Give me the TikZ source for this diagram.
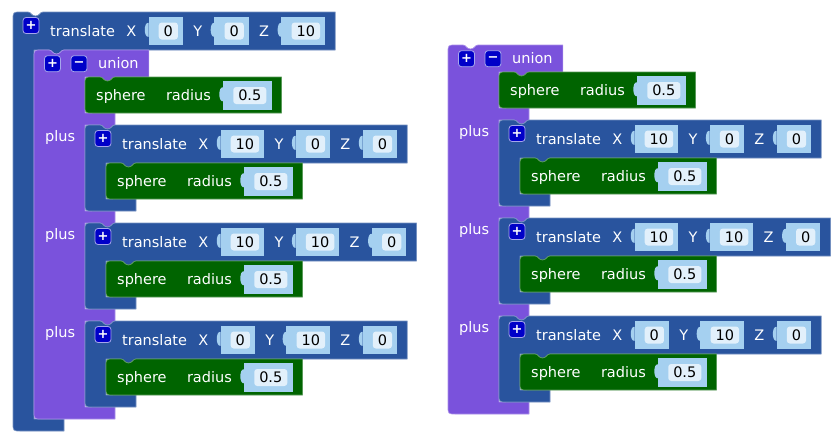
\documentclass[tikz,border=0pt]{standalone}
\usepackage{fontspec}
\setmainfont{DejaVu Sans}
\usetikzlibrary{calc,positioning}
\definecolor{tblue}{RGB}{41,84,158}
\definecolor{upurple}{RGB}{122,82,220}
\definecolor{sgreen}{RGB}{0,100,0}
\definecolor{vblue}{RGB}{165,208,240}
\definecolor{ffield}{RGB}{226,240,251}
\definecolor{bicon}{RGB}{0,0,200}
\pgfdeclarelayer{blocks}
\pgfdeclarelayer{sockets}
\pgfsetlayers{blocks,sockets,main}
\tikzset{
        tblk/.style = {fill=tblue, draw=tblue!65!white, line width=0.7pt, line join=round},
        ublk/.style = {fill=upurple, draw=upurple!65!white, line width=0.7pt, line join=round},
        sblk/.style = {fill=sgreen, draw=sgreen!65!white, line width=0.7pt, line join=round},
        vblk/.style = {fill=vblue},
        lbl/.style = {text=white, inner sep=0pt, text height=12.5pt, text depth=2.5pt},
        fld/.style = {fill=ffield, rounded corners=3pt, text=black,
            inner xsep=5pt, inner ysep=1pt, text height=12.5pt, text depth=2.5pt},
        btn/.style = {fill=bicon, draw=bicon!35!white, line width=0.8pt,
            rounded corners=3pt, minimum size=16pt, inner sep=0pt, text=white,
            font=\bfseries\fontsize{13}{13}\selectfont},
    }
\newcommand{\notchright}{.. controls +(3,0) and +(-4,0) .. ++(7.5,4) .. controls +(4,0) and +(-3,0) .. ++(7.5,-4)}
\newcommand{\tableft}{.. controls +(-3,0) and +(4,0) .. ++(-7.5,4) .. controls +(-4,0) and +(3,0) .. ++(-7.5,-4)}
\newcommand{\valin}[3]{%
    \node[fld, right=22pt of #2] (#1) {#3};
    \begin{pgfonlayer}{sockets}
        \fill[vblk] ($(#1.north west)+(-10,-5.5)$) rectangle ($(#1.south east)+(5,5.5)$);
        \fill[vblk] ($(#1.north west)+(-10,0.5)$) .. controls +(-5,-1) and +(-5,1) .. ++(0,14) -- cycle;
    \end{pgfonlayer}}
\newcommand{\sphereblk}[2]{%
    \begin{scope}[shift={#2}]
        \coordinate (#1O) at (0,0);
        \coordinate (#1B) at (0,36);
        \node[lbl, anchor=base west] (#1s) at (11,23.5) {sphere};
        \node[lbl, right=20pt of #1s] (#1r) {radius};
        \valin{#1f}{#1r}{0.5}
        \coordinate (#1E) at ($(#1f.east)+(15,0)$);
        \begin{pgfonlayer}{blocks}
            \path[sblk] (0,8) .. controls (0,0) .. (8,0) -- (15,0) \notchright -- (#1E |- #1O) -- (#1E |- #1B)
                -- (8,36) .. controls (0,36) .. (0,28) -- cycle;
        \end{pgfonlayer}
    \end{scope}}
\newcommand{\transblk}[6]{%
    \begin{scope}[shift={#2}]
        \coordinate (#1O) at (0,0);
        \coordinate (#1H) at (0,38);
        \node[btn] (#1p) at (18,13.5) {+};
        \node[lbl, anchor=base west] (#1t) at (37,24) {translate};
        \node[lbl, right=11pt of #1t] (#1x) {X};
        \valin{#1xv}{#1x}{#3}
        \node[lbl, right=15pt of #1xv] (#1y) {Y};
        \valin{#1yv}{#1y}{#4}
        \node[lbl, right=15pt of #1yv] (#1z) {Z};
        \valin{#1zv}{#1z}{#5}
        \coordinate (#1E) at ($(#1zv.east)+(15,0)$);
        \begin{pgfonlayer}{blocks}
            \path[tblk] (0,8) .. controls (0,0) .. (8,0) -- (15,0) \notchright -- (#1E |- #1O) -- (#1E |- #1H)
                -- (51,38) \tableft -- (21,38) -- (21,{38+#6}) -- (51,{38+#6}) -- (51,{50+#6})
                -- (8,{50+#6}) .. controls (0,{50+#6}) .. (0,{42+#6}) -- cycle;
        \end{pgfonlayer}
    \end{scope}}
\newcommand{\unionblk}[2]{%
    \begin{scope}[shift={#2}]
        \coordinate (#1O) at (0,0);
        \coordinate (#1H) at (0,27);
        \node[btn] (#1p) at (18.5,13.7) {+};
        \node[btn] (#1m) at (45,13.7) {−};
        \node[lbl, anchor=base west] (#1u) at (64,18.3) {union};
        \foreach \j in {0,1,2}
            \node[lbl, anchor=base west] (#1plus\j) at (11,{91.5+98*\j}) {plus};
        \coordinate (#1E) at ($(#1u.east)+(10,0)$);
        \begin{pgfonlayer}{blocks}
            \path[ublk] (0,8) .. controls (0,0) .. (8,0) -- (15,0) \notchright -- (#1E |- #1O) -- (#1E |- #1H)
                -- (81,27) \tableft -- (51,27) -- (51,63) -- (81,63)
                -- (81,75) \tableft -- (51,75) -- (51,161) -- (81,161)
                -- (81,173) \tableft -- (51,173) -- (51,259) -- (81,259)
                -- (81,271) \tableft -- (51,271) -- (51,357) -- (81,357)
                -- (81,369) -- (8,369) .. controls (0,369) .. (0,361) -- cycle;
        \end{pgfonlayer}
    \end{scope}}

\begin{document}
\begin{tikzpicture}[x=1pt, y=-1pt, font=\fontsize{14.5}{17}\selectfont]
    \useasboundingbox (0,0) rectangle (833,437);
    \transblk{to}{(13,12)}{0}{0}{10}{369}
    \foreach \n/\ux/\uy in {a/34/50, b/448/45} {
        \unionblk{u\n}{(\ux,\uy)}
        \sphereblk{s\n}{(\ux+51,\uy+27)}
        \foreach \k/\vx/\vy/\vz in {0/10/0/0, 1/10/10/0, 2/0/10/0} {
            \transblk{t\n\k}{(\ux+51,\uy+75+98*\k)}{\vx}{\vy}{\vz}{36}
            \sphereblk{s\n\k}{(\ux+72,\uy+113+98*\k)}
        }
    }
\end{tikzpicture}
\end{document}
